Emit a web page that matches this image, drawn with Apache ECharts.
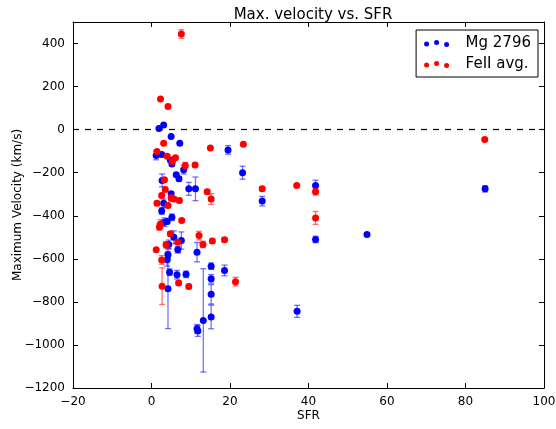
<!DOCTYPE html>
<html><head><meta charset="utf-8">
<script src="https://cdn.jsdelivr.net/npm/echarts@6/dist/echarts.min.js"></script>
<style>html,body{margin:0;padding:0;background:#fff}#c{width:556px;height:429px}</style>
</head><body><div id="c"></div>
<script>
const title = 'Max. velocity vs. SFR';
const xLabel = 'SFR';
const yLabel = 'Maximum Velocity (km/s)';
const seriesNames = ['Mg 2796', 'FeII avg.'];

// Mg 2796 (blue): SFR, velocity, error
const mgX = [1.9, 3.1, 5.0, 7.2, 1.2, 2.6, 4.8, 5.2, 8.2, 6.3, 7.0, 2.7, 9.5, 11.2, 19.5, 23.2, 28.2, 41.8, 41.8, 54.9, 85.0, 37.1, 5.0, 3.1, 2.6, 5.2, 3.3, 4.0, 5.7, 7.6, 4.4, 6.7, 11.6, 4.2, 4.0, 4.6, 6.5, 8.8, 4.2, 15.2, 15.2, 15.2, 15.2, 13.2, 11.6, 11.8, 18.6];
const mgY = [5, 22, -32, -63, -120, -116, -141, -159, -186, -209, -228, -236, -275, -275, -94, -200, -332, -260, -510, -487, -275, -844, -298, -342, -378, -407, -430, -427, -500, -515, -533, -558, -569, -581, -604, -662, -674, -672, -739, -634, -693, -765, -870, -886, -925, -935, -654];
const mgErr = [0, 0, 0, 0, 20, 10, 8, 8, 20, 8, 10, 30, 30, 55, 20, 30, 22, 25, 15, 8, 15, 28, 10, 20, 15, 15, 20, 10, 30, 40, 20, 15, 45, 15, 30, 15, 20, 15, 185, 15, 20, 45, 55, 240, 20, 25, 25];

// FeII avg. (red): SFR, velocity, error
const feX = [7.6, 2.3, 4.2, 3.1, 15.0, 23.4, 1.4, 4.0, 6.1, 5.3, 8.6, 11.1, 3.3, 14.2, 15.2, 3.5, 2.6, 5.0, 5.7, 1.4, 7.1, 4.2, 7.7, 2.3, 2.0, 12.1, 4.8, 6.7, 3.7, 13.1, 15.5, 1.2, 2.6, 6.9, 9.5, 2.7, 18.6, 21.4, 28.2, 37.0, 41.8, 41.8, 84.9];
const feY = [444, 142, 108, -63, -85, -68, -102, -124, -130, -148, -167, -164, -233, -288, -322, -278, -306, -318, -322, -342, -329, -352, -422, -438, -452, -492, -484, -523, -535, -533, -517, -558, -605, -712, -728, -727, -511, -706, -275, -260, -289, -410, -46];
const feErr = [20, 0, 0, 0, 0, 0, 8, 8, 8, 8, 15, 8, 8, 10, 25, 10, 10, 15, 10, 10, 10, 10, 8, 20, 15, 20, 10, 10, 15, 15, 10, 0, 20, 10, 10, 85, 10, 20, 10, 0, 15, 30, 0];

const xTicks = [-20, 0, 20, 40, 60, 80, 100];
const yTicks = [-1200, -1000, -800, -600, -400, -200, 0, 200, 400];

const FONT = 'DejaVu Sans';
const fmt = v => (v < 0 ? '\u2212' + Math.abs(v) : String(v));

function pts(xs, ys, es) { return xs.map((x, i) => [x, ys[i], es[i]]); }

function errItem(color) {
  return function (params, api) {
    const x = api.value(0), y = api.value(1), e = api.value(2);
    if (!e) return null;
    const t = api.coord([x, y + e]), b = api.coord([x, y - e]);
    const cw = 3;
    const st = { stroke: color, lineWidth: 1.3 };
    return { type: 'group', children: [
      { type: 'line', shape: { x1: t[0], y1: t[1], x2: b[0], y2: b[1] }, style: st },
      { type: 'line', shape: { x1: t[0] - cw, y1: t[1], x2: t[0] + cw, y2: t[1] }, style: st },
      { type: 'line', shape: { x1: b[0] - cw, y1: b[1], x2: b[0] + cw, y2: b[1] }, style: st }
    ]};
  };
}

const dots = 'path://M0.5,4.5a2.5,2.5 0 1,0 5,0a2.5,2.5 0 1,0 -5,0Z M10.5,3a2.5,2.5 0 1,0 5,0a2.5,2.5 0 1,0 -5,0Z M20.5,5a2.5,2.5 0 1,0 5,0a2.5,2.5 0 1,0 -5,0Z';

const chart = echarts.init(document.getElementById('c'), null, { renderer: 'canvas' });
const axisCommon = {
  axisLine: { onZero: false, lineStyle: { color: '#000', width: 1 } },
  axisTick: { inside: true, length: 5, lineStyle: { color: '#000' } },
  splitLine: { show: false },
  axisLabel: { color: '#000', fontFamily: FONT, fontSize: 12, formatter: fmt, showMaxLabel: true }
};
const yAxisLabel = Object.assign({}, axisCommon.axisLabel, { showMaxLabel: false });
chart.setOption({
  animation: false,
  backgroundColor: '#fff',
  title: { text: title, left: 308, top: 3, textAlign: 'center',
    textStyle: { fontFamily: FONT, fontSize: 15, fontWeight: 'normal', color: '#000' } },
  grid: { left: 73, right: 12, top: 22, bottom: 41, containLabel: false, outerBoundsMode: 'none' },
  legend: {
    orient: 'vertical', right: 18, top: 30,
    data: [{ name: seriesNames[0], icon: dots }, { name: seriesNames[1], icon: dots }],
    itemWidth: 26, itemHeight: 7, itemGap: 6,
    padding: [6, 7, 5, 8],
    borderColor: '#000', borderWidth: 1, backgroundColor: '#fff',
    textStyle: { fontFamily: FONT, fontSize: 15, color: '#000', padding: [0, 0, 0, 11] }
  },
  xAxis: [
    Object.assign({ type: 'value', min: -20, max: 100, interval: 20, name: xLabel,
      nameLocation: 'middle', nameGap: 22, nameMoveOverlap: false,
      nameTextStyle: { fontFamily: FONT, fontSize: 12, color: '#000' } }, axisCommon),
    Object.assign({}, axisCommon, { type: 'value', position: 'top', min: -20, max: 100, interval: 20,
      axisLabel: { show: false } })
  ],
  yAxis: [
    Object.assign({ type: 'value', min: -1200, max: 500, interval: 200, name: yLabel,
      nameLocation: 'middle', nameGap: 49, nameMoveOverlap: false,
      nameTextStyle: { fontFamily: FONT, fontSize: 12, color: '#000' } }, axisCommon, { axisLabel: yAxisLabel }),
    Object.assign({}, axisCommon, { type: 'value', position: 'right', min: -1200, max: 500, interval: 200,
      axisLabel: { show: false } })
  ],
  series: [
    { type: 'custom', name: 'mgErr', renderItem: errItem('rgba(0,0,255,0.55)'),
      data: pts(mgX, mgY, mgErr), encode: { x: 0, y: 1 }, z: 2, silent: true },
    { type: 'scatter', name: seriesNames[0], data: pts(mgX, mgY, mgErr), symbol: 'circle', symbolSize: 7,
      itemStyle: { color: '#0000ff', opacity: 1 }, z: 3,
      markLine: { silent: true, symbol: 'none', label: { show: false },
        lineStyle: { color: '#000', type: [6, 6], width: 1.2 }, data: [{ yAxis: 0 }] } },
    { type: 'custom', name: 'feErr', renderItem: errItem('rgba(255,0,0,0.55)'),
      data: pts(feX, feY, feErr), encode: { x: 0, y: 1 }, z: 4, silent: true },
    { type: 'scatter', name: seriesNames[1], data: pts(feX, feY, feErr), symbol: 'circle', symbolSize: 7,
      itemStyle: { color: '#ff0000', opacity: 1 }, z: 5 }
  ]
});
</script></body></html>
